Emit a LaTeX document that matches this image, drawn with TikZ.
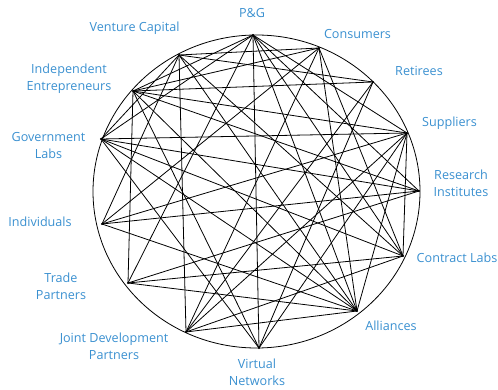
\documentclass[tikz,border=0pt]{standalone}
\usepackage{fontspec}
\setmainfont{Open Sans}
\definecolor{labelblue}{RGB}{58,144,208}
\begin{document}
\begin{tikzpicture}[x=1pt,y=-1pt,
  lbl/.style={text=labelblue,font=\fontsize{12.6}{16.5}\selectfont,align=center,inner sep=0pt},
  chord/.style={draw=black,line width=0.8pt},
  dotnode/.style={circle,fill=black,inner sep=0pt,minimum size=2.4pt}]
\useasboundingbox (0,0) rectangle (498,390);
% outer circle
\draw[line width=0.8pt] (256.5,191.5) ellipse [x radius=163.5pt, y radius=156.5pt];
% points
\node[dotnode] (PG) at (253,35) {};
\node[dotnode] (CO) at (319,48) {};
\node[dotnode] (RE) at (373,82) {};
\node[dotnode] (SU) at (407,133) {};
\node[dotnode] (RI) at (419,191) {};
\node[dotnode] (CL) at (403,256) {};
\node[dotnode] (AL) at (357,311) {};
\node[dotnode] (VN) at (259,348) {};
\node[dotnode] (JD) at (186,332) {};
\node[dotnode] (TP) at (128,283) {};
\node[dotnode] (IN) at (102,224) {};
\node[dotnode] (GL) at (101,139) {};
\node[dotnode] (IE) at (133,91) {};
\node[dotnode] (VC) at (179,55) {};
% chords
\foreach \a/\b in {PG/IE,PG/GL,PG/TP,PG/VN,PG/AL,PG/CL,PG/RI,PG/SU,
  CO/VC,CO/IE,CO/IN,CO/JD,CO/AL,CO/CL,
  RE/VC,RE/VN,RE/JD,RE/IE,
  SU/GL,SU/IE,SU/IN,SU/JD,SU/AL,SU/VN,SU/CL,
  RI/GL,RI/IE,RI/IN,RI/TP,
  CL/GL,CL/TP,CL/VC,CL/JD,
  AL/VC,AL/IE,AL/GL,AL/TP,AL/JD,AL/IN,
  VN/IE,VN/GL,VC/GL,VC/IN,VC/JD,IE/TP}
  \draw[chord] (\a.center) -- (\b.center);
% labels
\node[lbl] (lPG) at (252,13) {P\&G};
\node[lbl] (lVC) at (134.5,28) {Venture Capital};
\node[lbl] (lCO) at (357.5,34) {Consumers};
\node[lbl] (lIE) at (69,78.5) {Independent\\Entrepreneurs};
\node[lbl] (lRE) at (419,71) {Retirees};
\node[lbl] (lGL) at (48.5,145.5) {Government\\Labs};
\node[lbl] (lSU) at (449.5,123) {Suppliers};
\node[lbl] (lRI) at (461,183.5) {Research\\Institutes};
\node[lbl] (lIN) at (40,222) {Individuals};
\node[lbl,anchor=west] (lCL) at (416.5,258) {Contract Labs};
\node[lbl] (lTP) at (61,286.5) {Trade\\Partners};
\node[lbl] (lAL) at (391,326) {Alliances};
\node[lbl] (lJD) at (114,346.5) {Joint Development\\Partners};
\node[lbl] (lVN) at (257,372.5) {Virtual\\Networks};
\end{tikzpicture}
\end{document}
